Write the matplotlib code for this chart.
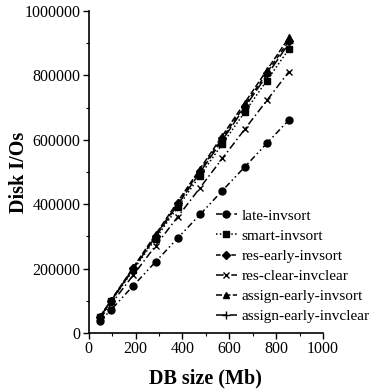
import matplotlib
matplotlib.use("Agg")
import matplotlib.pyplot as plt
from matplotlib.ticker import MultipleLocator, StrMethodFormatter

plt.rcParams['font.family'] = ['Liberation Serif', 'DejaVu Serif']

# DB size (Mb)
db_size = [48, 95, 190, 285, 380, 475, 570, 665, 760, 855]

# disk I/Os for each strategy
late_invsort = [37000, 72000, 147000, 221000, 295000, 368000, 442000, 515000, 589000, 662000]
smart_invsort = [49000, 98000, 196000, 293000, 391000, 489000, 587000, 685000, 784000, 882000]
res_early_invsort = [50000, 100000, 201000, 302000, 403000, 504000, 605000, 706000, 808000, 908000]
res_clear_invclear = [45000, 90000, 180000, 271000, 361000, 451000, 542000, 632000, 722000, 812000]
assign_early_invsort = [51000, 102000, 204000, 306000, 408000, 510000, 612000, 714000, 816000, 918000]
assign_early_invclear = [50000, 99000, 199000, 299000, 399000, 499000, 599000, 700000, 800000, 900000]

# name, values, marker, marker size, line style
series = [
    ("late-invsort", late_invsort, "o", 5, (0, (4, 2, 1, 2, 1, 2))),
    ("smart-invsort", smart_invsort, "s", 5, (0, (1, 1.5))),
    ("res-early-invsort", res_early_invsort, "D", 4, (0, (3, 2))),
    ("res-clear-invclear", res_clear_invclear, "x", 5, (0, (5, 2, 1, 2))),
    ("assign-early-invsort", assign_early_invsort, "^", 5, (0, (4, 1.5))),
    ("assign-early-invclear", assign_early_invclear, "+", 5.5, (0, (7, 2))),
]

fig = plt.figure(figsize=(3.70, 3.92), dpi=100)
ax = fig.add_axes([0.24, 0.1505, 0.633, 0.8215])

for name, vals, mk, ms, ls in series:
    ax.plot(db_size, vals, color="black", linestyle=ls, linewidth=1.1,
            marker=mk, markersize=ms, markeredgewidth=1.0, label=name)

ax.set_xlim(0, 1000)
ax.set_ylim(0, 1000000)
ax.xaxis.set_major_locator(MultipleLocator(200))
ax.xaxis.set_minor_locator(MultipleLocator(100))
ax.yaxis.set_major_locator(MultipleLocator(200000))
ax.yaxis.set_minor_locator(MultipleLocator(100000))
ax.yaxis.set_major_formatter(StrMethodFormatter("{x:.0f}"))
ax.tick_params(which="major", direction="out", length=4, width=1, labelsize=11.5, pad=2)
ax.tick_params(which="minor", direction="out", length=2, width=0.8)
ax.spines["top"].set_visible(False)
ax.spines["right"].set_visible(False)
for s in ("left", "bottom"):
    ax.spines[s].set_linewidth(1.2)

ax.set_xlabel("DB size (Mb)", fontsize=14.5, fontweight="bold")
ax.set_ylabel("Disk I/Os", fontsize=14.5, fontweight="bold")
ax.xaxis.set_label_coords(0.5, -0.11)
ax.yaxis.set_label_coords(-0.255, 0.5)

ax.legend(loc="upper left", bbox_to_anchor=(216 / 370, 1 - 209 / 392),
          bbox_transform=fig.transFigure, frameon=False, fontsize=11,
          handlelength=1.35, handletextpad=0.3, labelspacing=0.42,
          borderpad=0, borderaxespad=0)

fig.savefig("out.png", dpi=100)
